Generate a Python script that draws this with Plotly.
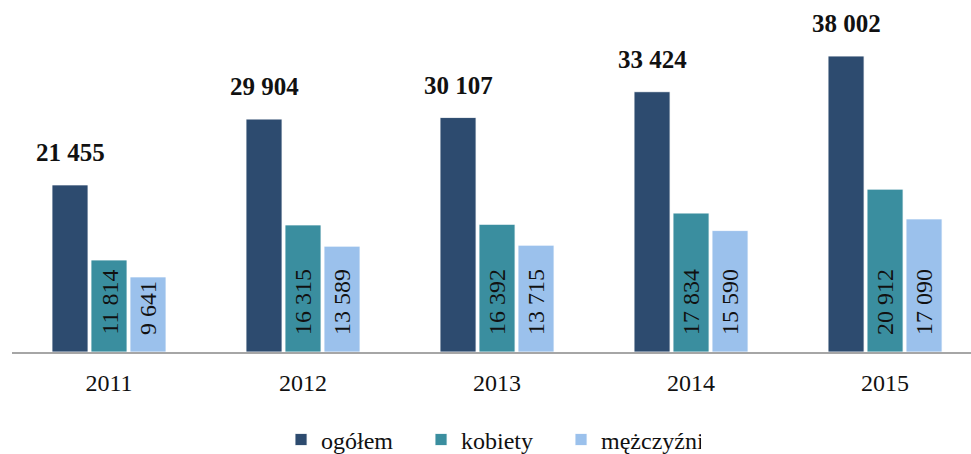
import plotly.graph_objects as go

years = ["2011", "2012", "2013", "2014", "2015"]
ogolem = [21455, 29904, 30107, 33424, 38002]
kobiety = [11814, 16315, 16392, 17834, 20912]
mezczyzni = [9641, 13589, 13715, 15590, 17090]

series_names = ["ogółem", "kobiety", "mężczyźni"]
colors = ["#2D4B6F", "#3A8E9F", "#9BC1EC"]

FONT = "Liberation Serif"


def fmt(v):
    return f"{v:,}".replace(",", " ")


fig = go.Figure()
for name, vals, col in zip(series_names, [ogolem, kobiety, mezczyzni], colors):
    fig.add_trace(go.Bar(
        x=years, y=vals, name=name,
        marker=dict(color=col, line=dict(color="white", width=0.8)),
        hoverinfo="skip",
    ))

annotations = []
GROUP_PX = 39
for i in range(len(years)):
    annotations.append(dict(
        x=i, y=ogolem[i], xref="x", yref="y", xshift=-GROUP_PX, yshift=17,
        text=f"<b>{fmt(ogolem[i])}</b>", showarrow=False, yanchor="bottom",
        xanchor="center", font=dict(family=FONT, size=25, color="#111111"),
    ))
    for k, vals in enumerate([kobiety, mezczyzni]):
        annotations.append(dict(
            x=i, y=0, xref="x", yref="y", xshift=GROUP_PX * k, yshift=15,
            text=fmt(vals[i]), showarrow=False, textangle=-90,
            yanchor="bottom", xanchor="center",
            font=dict(family=FONT, size=24, color="#111111"),
        ))

fig.update_layout(
    template="none",
    width=971, height=454,
    margin=dict(l=12, r=0, t=0, b=102, pad=0),
    paper_bgcolor="white", plot_bgcolor="white",
    barmode="group", bargap=0.397, bargroupgap=0.077,
    font=dict(family=FONT, size=24, color="#111111"),
    xaxis=dict(
        type="category", range=[-0.5, 4.443], automargin=False,
        showline=True, linecolor="#A6A6A6", linewidth=1.5,
        ticks="", showgrid=False, zeroline=False, ticklabelstandoff=8,
        tickfont=dict(family=FONT, size=24, color="#111111"),
    ),
    yaxis=dict(range=[0, 45200], visible=False, showgrid=False,
               zeroline=False, automargin=False),
    legend=dict(
        orientation="h", xref="container", yref="container",
        x=0.5057, xanchor="center", y=0.031, yanchor="middle",
        entrywidth=95, entrywidthmode="pixels",
        font=dict(family=FONT, size=24, color="#111111"),
        traceorder="normal", bgcolor="rgba(0,0,0,0)",
    ),
    annotations=annotations,
    showlegend=True,
)

fig.write_html(
    "out.html",
    config={"displayModeBar": False},
    post_script="document.body.style.margin='0px';document.body.style.padding='0px';",
)
